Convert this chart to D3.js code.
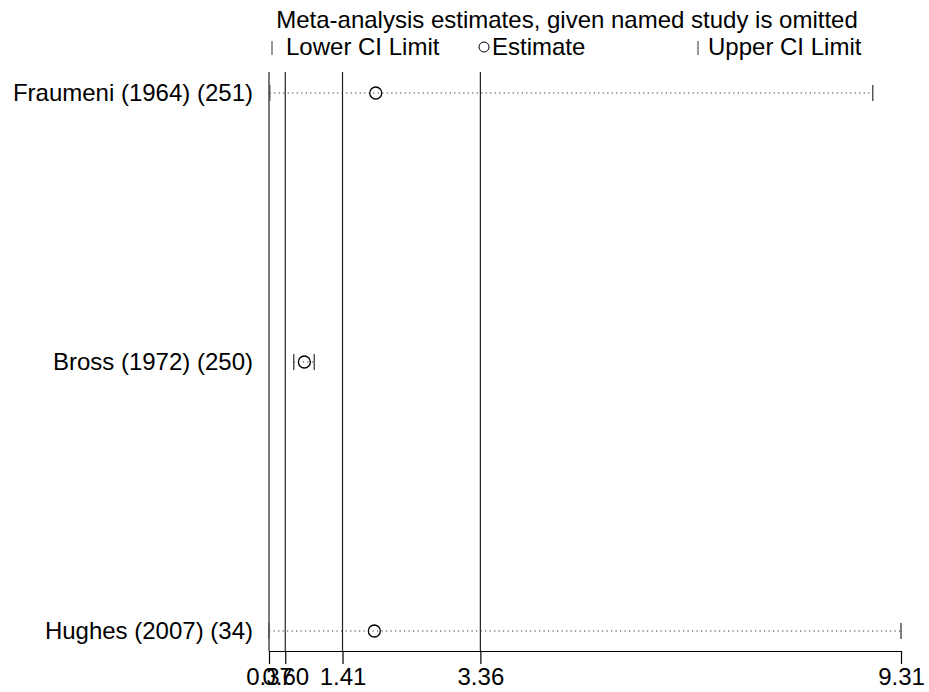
<!DOCTYPE html>
<html>
<head>
  <meta charset="utf-8">
  <title></title>
<style>
  body { margin: 0; background: #fff; }
  text { font-family: "Liberation Sans", Arial, sans-serif; font-size: 24px; fill: #000; }
</style>
</head>
<body>
<svg width="929" height="692"></svg>
<script src="https://d3js.org/d3.v7.min.js"></script>
<script>
// data
var studies = ["Fraumeni (1964) (251)", "Bross (1972) (250)", "Hughes (2007) (34)"];
var lower = [0.38, 0.72, 0.37];
var estimate = [1.88, 0.87, 1.86];
var upper = [8.91, 1.01, 9.31];
var refLines = [0.37, 0.60, 1.41, 3.36];
var tickValues = [0.37, 0.60, 1.41, 3.36, 9.31];
var tickLabels = ["0.37", "0.60", "1.41", "3.36", "9.31"];

var svg = d3.select("svg");

var x = d3.scaleLinear().domain([0.37, 9.31]).range([269, 901]);
var y = d3.scalePoint().domain(studies).range([93, 631]);
var plotTop = 72, axisY = 651;

// title + legend
svg.append("text").attr("x", 567).attr("y", 28).attr("text-anchor", "middle")
  .text("Meta-analysis estimates, given named study is omitted");

var leg = svg.append("g");
leg.append("line").attr("x1", 272).attr("x2", 272).attr("y1", 41).attr("y2", 55)
  .attr("stroke", "#555").attr("stroke-width", 1.2);
leg.append("text").attr("x", 286).attr("y", 55).text("Lower CI Limit");
leg.append("circle").attr("cx", 484).attr("cy", 47).attr("r", 5)
  .attr("fill", "none").attr("stroke", "#000").attr("stroke-width", 1);
leg.append("text").attr("x", 492).attr("y", 55).text("Estimate");
leg.append("line").attr("x1", 698).attr("x2", 698).attr("y1", 41).attr("y2", 55)
  .attr("stroke", "#555").attr("stroke-width", 1.2);
leg.append("text").attr("x", 708).attr("y", 55).text("Upper CI Limit");

// reference lines
svg.append("g").selectAll("line").data(refLines).enter().append("line")
  .attr("x1", d => x(d)).attr("x2", d => x(d))
  .attr("y1", plotTop).attr("y2", axisY)
  .attr("stroke", "#222").attr("stroke-width", 1.2);

// study rows
var rows = svg.append("g").selectAll("g").data(studies).enter().append("g");

rows.append("text")
  .attr("x", 253).attr("y", d => y(d)).attr("dy", "0.35em")
  .attr("text-anchor", "end").text(d => d);

rows.append("line")
  .attr("x1", (d, i) => x(lower[i])).attr("x2", (d, i) => x(upper[i]))
  .attr("y1", d => y(d)).attr("y2", d => y(d))
  .attr("stroke", "#333").attr("stroke-width", 1.2)
  .attr("stroke-dasharray", "1.2,3.3");

rows.append("line")
  .attr("x1", (d, i) => x(lower[i])).attr("x2", (d, i) => x(lower[i]))
  .attr("y1", d => y(d) - 8).attr("y2", d => y(d) + 8)
  .attr("stroke", "#555").attr("stroke-width", 1.5);

rows.append("line")
  .attr("x1", (d, i) => x(upper[i])).attr("x2", (d, i) => x(upper[i]))
  .attr("y1", d => y(d) - 8).attr("y2", d => y(d) + 8)
  .attr("stroke", "#555").attr("stroke-width", 1.5);

rows.append("circle")
  .attr("cx", (d, i) => x(estimate[i])).attr("cy", d => y(d)).attr("r", 6)
  .attr("fill", "none").attr("stroke", "#000").attr("stroke-width", 1.3);

// x axis
var axis = d3.axisBottom(x).tickValues(tickValues)
  .tickFormat((d, i) => tickLabels[i]).tickSize(13).tickSizeOuter(0);
var ax = svg.append("g").attr("transform", "translate(0," + axisY + ")").call(axis);
ax.select(".domain").attr("stroke", "#000").attr("stroke-width", 1.2);
ax.selectAll(".tick line").attr("stroke", "#000").attr("stroke-width", 1.2);
ax.selectAll(".tick text").attr("y", 17).attr("dy", "0.71em")
  .style("font-family", '"Liberation Sans", Arial, sans-serif').style("font-size", "24px");
</script>
</body>
</html>
